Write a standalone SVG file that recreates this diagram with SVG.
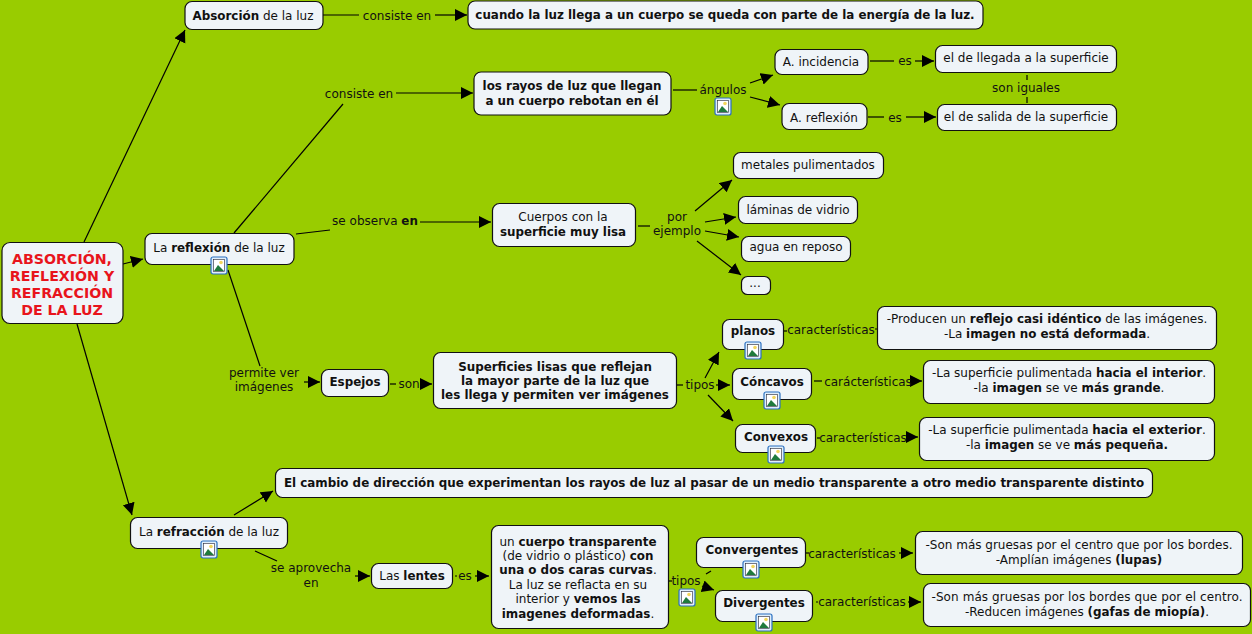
<svg xmlns="http://www.w3.org/2000/svg" xmlns:xlink="http://www.w3.org/1999/xlink" width="1252" height="634" viewBox="0 0 1252 634">
<style>
text{font-family:"DejaVu Sans",Verdana,sans-serif;font-size:12px;fill:#111;text-anchor:middle}
.b{font-weight:bold;font-size:11.9px}
.n{fill:#eff4f8;stroke:#111;stroke-width:1.2}
.c line,.c polyline{stroke:#000;stroke-width:1.2;fill:none}
.a{marker-end:url(#m)}
.r{fill:#e8141c;font-weight:bold;font-size:14.2px}
</style>
<defs>
<marker id="m" markerUnits="userSpaceOnUse" markerWidth="14" markerHeight="13" refX="12" refY="6" orient="auto"><path d="M0,0L12,6L0,12Z" fill="#000"/></marker>
<g id="ic">
<rect x="0" y="0" width="16" height="17" rx="2" fill="#dfeefb" stroke="#2a6fc0" stroke-width="1.2"/>
<rect x="2.500" y="2.500" width="11" height="12" fill="#fff" stroke="#223" stroke-width=".6"/>
<circle cx="10" cy="5.500" r="1.800" fill="#f3d65c"/>
<path d="M3,14L7,8L13,14Z" fill="#1f7a3c"/>
</g>
</defs>
<rect width="1252" height="634" fill="#99cc00"/>
<g class="c" id="connectors">
<line x1="84" y1="242" x2="185" y2="30" class="a"/>
<line x1="123" y1="264" x2="143" y2="259" class="a"/>
<line x1="77" y1="324" x2="132" y2="515" class="a"/>
<line x1="323" y1="15" x2="359" y2="15"/><line x1="435" y1="15" x2="467" y2="15" class="a"/>
<line x1="234" y1="233" x2="343" y2="104"/><line x1="396" y1="93" x2="473" y2="93" class="a"/>
<line x1="296" y1="234" x2="330" y2="230"/><line x1="420" y1="222" x2="491" y2="222" class="a"/>
<line x1="228" y1="270" x2="260" y2="366"/><line x1="304" y1="382" x2="320" y2="382" class="a"/>
<line x1="673" y1="90" x2="697" y2="90"/>
<line x1="750" y1="83" x2="773" y2="75" class="a"/><line x1="750" y1="97" x2="780" y2="105" class="a"/>
<line x1="870" y1="61" x2="894" y2="61"/><line x1="915" y1="61" x2="934" y2="61" class="a"/>
<line x1="868" y1="117" x2="884" y2="117"/><line x1="906" y1="117" x2="936" y2="117" class="a"/>
<line x1="1027" y1="75" x2="1027" y2="80"/><line x1="1027" y1="97" x2="1027" y2="103"/>
<line x1="638" y1="226" x2="650" y2="226"/>
<line x1="695" y1="211" x2="732" y2="180" class="a"/>
<line x1="705" y1="222" x2="736" y2="217" class="a"/>
<line x1="705" y1="231" x2="739" y2="237" class="a"/>
<line x1="697" y1="241" x2="741" y2="275" class="a"/>
<line x1="390" y1="384" x2="396" y2="384"/><line x1="421" y1="384" x2="432" y2="384" class="a"/>
<line x1="677" y1="385" x2="683" y2="385"/>
<line x1="705" y1="378" x2="719" y2="352" class="a"/>
<line x1="716" y1="385" x2="730" y2="385" class="a"/>
<line x1="708" y1="395" x2="733" y2="421" class="a"/>
<line x1="784" y1="331" x2="787" y2="331"/><line x1="875" y1="329" x2="877" y2="329"/>
<line x1="814" y1="381" x2="822" y2="381"/><line x1="912" y1="381" x2="922" y2="381" class="a"/>
<line x1="817" y1="438" x2="820" y2="438"/><line x1="906" y1="437" x2="918" y2="437" class="a"/>
<line x1="234" y1="515" x2="273" y2="491" class="a"/>
<line x1="255" y1="551" x2="277" y2="561"/><line x1="355" y1="576" x2="370" y2="576" class="a"/>
<line x1="455" y1="576" x2="457" y2="576"/><line x1="475" y1="576" x2="489" y2="576" class="a"/>
<line x1="669" y1="581" x2="672" y2="581"/>
<line x1="706" y1="574" x2="711" y2="571"/>
<line x1="702" y1="586" x2="714" y2="590" class="a"/>
<line x1="806" y1="553" x2="809" y2="553"/><line x1="899" y1="553" x2="913" y2="553" class="a"/>
<line x1="816" y1="602" x2="818" y2="602"/><line x1="908" y1="602" x2="921" y2="602" class="a"/>
</g>
<g id="link-labels">
<text x="397" y="20">consiste en</text>
<text x="359" y="98">consiste en</text>
<text x="723" y="94">ángulos</text><use xlink:href="#ic" href="#ic" x="715" y="98"/>
<text x="905" y="65">es</text>
<text x="895" y="122">es</text>
<text x="1026" y="92">son iguales</text>
<text x="375" y="225">se observa <tspan class="b">en</tspan></text>
<text x="677" y="221">por</text><text x="677" y="235">ejemplo</text>
<text x="264" y="377">permite ver</text><text x="264" y="391">imágenes</text>
<text x="409" y="388">son</text>
<text x="700" y="389">tipos</text>
<text x="831" y="334">características</text>
<text x="868" y="386">carácterísticas</text>
<text x="863" y="442">características</text>
<text x="311" y="572">se aprovecha</text><text x="311" y="587">en</text>
<text x="465" y="580">es</text>
<text x="686" y="585">tipos</text><use xlink:href="#ic" href="#ic" x="679" y="589"/>
<text x="852" y="558">características</text>
<text x="862" y="606">características</text>
</g>
<g id="root"><rect class="n" x="2" y="242.500" width="121" height="81" rx="8"/>
<text class="r" x="62" y="264">ABSORCIÓN,</text><text class="r" x="62" y="281">REFLEXIÓN Y</text><text class="r" x="62" y="298">REFRACCIÓN</text><text class="r" x="62" y="315">DE LA LUZ</text></g>
<g id="n-absorcion"><rect class="n" x="185" y="1.500" width="138" height="28" rx="7"/><text x="253" y="20"><tspan class="b">Absorción</tspan> de la luz</text></g>
<g id="n-cuando"><rect class="n" x="468" y="1" width="515" height="28" rx="7"/><text class="b" x="725" y="19">cuando la luz llega a un cuerpo se queda con parte de la energía de la luz.</text></g>
<g id="n-rayos"><rect class="n" x="474" y="72" width="197" height="43" rx="7"/><text class="b" x="572" y="90">los rayos de luz que llegan</text><text class="b" x="572" y="105">a un cuerpo rebotan en él</text></g>
<g id="n-incidencia"><rect class="n" x="775" y="49.500" width="93" height="25" rx="7"/><text x="821" y="66">A. incidencia</text></g>
<g id="n-areflexion"><rect class="n" x="782" y="103.500" width="85" height="26" rx="7"/><text x="824" y="122">A. reflexión</text></g>
<g id="n-llegada"><rect class="n" x="935.500" y="45.500" width="181" height="27" rx="7"/><text x="1026" y="62">el de llegada a la superficie</text></g>
<g id="n-salida"><rect class="n" x="937.500" y="104.500" width="179" height="26" rx="7"/><text x="1026" y="121">el de salida de la superficie</text></g>
<g id="n-reflexion"><rect class="n" x="145" y="233.500" width="149" height="31" rx="7"/><text x="219" y="252">La <tspan class="b">reflexión</tspan> de la luz</text><use xlink:href="#ic" href="#ic" x="211" y="257"/></g>
<g id="n-cuerpos"><rect class="n" x="492.500" y="203.500" width="143" height="43" rx="7"/><text x="563" y="221">Cuerpos con la</text><text class="b" x="563" y="236">superficie muy lisa</text></g>
<g id="n-metales"><rect class="n" x="733.500" y="152.500" width="150" height="26" rx="7"/><text x="808" y="169">metales pulimentados</text></g>
<g id="n-laminas"><rect class="n" x="738.500" y="196.500" width="119" height="27" rx="7"/><text x="798" y="214">láminas de vidrio</text></g>
<g id="n-agua"><rect class="n" x="741.500" y="236.500" width="109" height="25" rx="7"/><text x="796" y="251">agua en reposo</text></g>
<g id="n-etc"><rect class="n" x="741.500" y="276.500" width="29" height="18" rx="6"/><text x="755" y="287">...</text></g>
<g id="n-espejos"><rect class="n" x="321.500" y="369.500" width="67" height="27" rx="7"/><text class="b" x="355" y="386">Espejos</text></g>
<g id="n-superficies"><rect class="n" x="433.500" y="352.500" width="243" height="56" rx="7"/><text class="b" x="555" y="371">Superficies lisas que reflejan</text><text class="b" x="555" y="385">la mayor parte de la luz que</text><text class="b" x="555" y="399">les llega y permiten ver imágenes</text></g>
<g id="n-planos"><rect class="n" x="722.500" y="319.500" width="61" height="30" rx="7"/><text class="b" x="753" y="335">planos</text><use xlink:href="#ic" href="#ic" x="745" y="342"/></g>
<g id="n-concavos"><rect class="n" x="732.500" y="368.500" width="79" height="31" rx="7"/><text class="b" x="772" y="386">Cóncavos</text><use xlink:href="#ic" href="#ic" x="764" y="392"/></g>
<g id="n-convexos"><rect class="n" x="735.500" y="424.500" width="80" height="28" rx="7"/><text class="b" x="776" y="441">Convexos</text><use xlink:href="#ic" href="#ic" x="768" y="446"/></g>
<g id="n-producen"><rect class="n" x="877.500" y="306.500" width="339" height="43" rx="7"/><text x="1047" y="323">-Producen un <tspan class="b">reflejo casi idéntico</tspan> de las imágenes.</text><text x="1047" y="338">-La <tspan class="b">imagen no está deformada</tspan>.</text></g>
<g id="n-interior"><rect class="n" x="923.500" y="360.500" width="291" height="43" rx="7"/><text x="1069" y="377">-La superficie pulimentada <tspan class="b">hacia el interior</tspan>.</text><text x="1069" y="392">-la <tspan class="b">imagen</tspan> se ve <tspan class="b">más grande</tspan>.</text></g>
<g id="n-exterior"><rect class="n" x="919.500" y="417.500" width="295" height="43" rx="7"/><text x="1067" y="434">-La superficie pulimentada <tspan class="b">hacia el exterior</tspan>.</text><text x="1067" y="449">-la <tspan class="b">imagen</tspan> se ve <tspan class="b">más pequeña.</tspan></text></g>
<g id="n-cambio"><rect class="n" x="275.500" y="468.500" width="877" height="29" rx="7"/><text class="b" x="714" y="487">El cambio de dirección que experimentan los rayos de luz al pasar de un medio transparente a otro medio transparente distinto</text></g>
<g id="n-refraccion"><rect class="n" x="130.500" y="517.500" width="157" height="31" rx="7"/><text x="209" y="536">La <tspan class="b">refracción</tspan> de la luz</text><use xlink:href="#ic" href="#ic" x="201" y="541"/></g>
<g id="n-lentes"><rect class="n" x="371.500" y="563.500" width="81" height="25" rx="7"/><text x="412" y="580">Las <tspan class="b">lentes</tspan></text></g>
<g id="n-uncuerpo"><rect class="n" x="491.500" y="525.500" width="177" height="103" rx="7"/>
<text x="578" y="546">un <tspan class="b">cuerpo transparente</tspan></text><text x="578" y="560">(de vidrio o plástico) <tspan class="b">con</tspan></text><text x="578" y="574"><tspan class="b">una o dos caras curvas</tspan>.</text><text x="578" y="589">La luz se reflacta en su</text><text x="578" y="603">interior y <tspan class="b">vemos las</tspan></text><text x="578" y="618"><tspan class="b">imagenes deformadas</tspan>.</text></g>
<g id="n-convergentes"><rect class="n" x="696.500" y="537.500" width="109" height="30" rx="7"/><text class="b" x="752" y="554">Convergentes</text><use xlink:href="#ic" href="#ic" x="743" y="561"/></g>
<g id="n-divergentes"><rect class="n" x="715.500" y="590.500" width="97" height="31" rx="7"/><text class="b" x="764" y="607">Divergentes</text><use xlink:href="#ic" href="#ic" x="756" y="614"/></g>
<g id="n-gruesas1"><rect class="n" x="915.500" y="531.500" width="327" height="43" rx="7"/><text x="1079" y="549">-Son más gruesas por el centro que por los bordes.</text><text x="1079" y="564">-Amplían imágenes <tspan class="b">(lupas)</tspan></text></g>
<g id="n-gruesas2"><rect class="n" x="923.500" y="583.500" width="327" height="43" rx="7"/><text x="1087" y="601" textLength="311">-Son más gruesas por los bordes que por el centro.</text><text x="1087" y="616">-Reducen imágenes <tspan class="b">(gafas de miopía)</tspan>.</text></g>
</svg>
